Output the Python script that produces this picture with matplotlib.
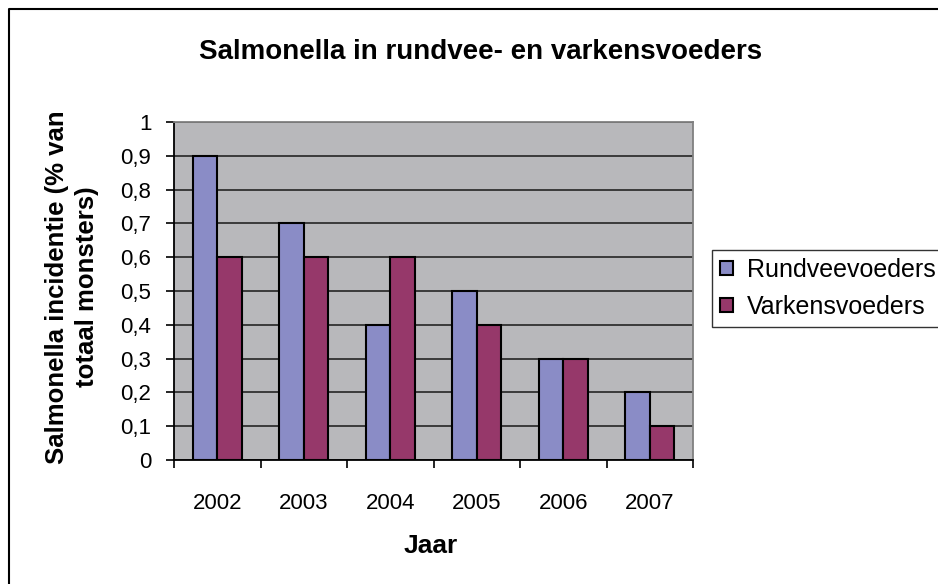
import matplotlib
matplotlib.use('Agg')
import matplotlib.pyplot as plt
import numpy as np
from matplotlib.lines import Line2D

plt.rcParams['font.family'] = ['Liberation Sans', 'DejaVu Sans']

years = ['2002', '2003', '2004', '2005', '2006', '2007']
rundvee = [0.9, 0.7, 0.4, 0.5, 0.3, 0.2]
varkens = [0.6, 0.6, 0.6, 0.4, 0.3, 0.1]
yticks = [0, 0.1, 0.2, 0.3, 0.4, 0.5, 0.6, 0.7, 0.8, 0.9, 1]
ylabels = ['0', '0,1', '0,2', '0,3', '0,4', '0,5', '0,6', '0,7', '0,8', '0,9', '1']

W, H = 938, 584
fig = plt.figure(figsize=(W / 100, H / 100), dpi=100)
ax = fig.add_axes([174 / W, 1 - 460 / H, (693 - 174) / W, (460 - 122) / H])
ax.set_facecolor('#b8b8bb')

x = np.arange(len(years)) + 0.5
w = 1 / 3.5
ax.bar(x - w / 2, rundvee, w, color='#8a8cc6', edgecolor='black',
       linewidth=1.5, label='Rundveevoeders', zorder=3)
ax.bar(x + w / 2, varkens, w, color='#96386a', edgecolor='black',
       linewidth=1.5, label='Varkensvoeders', zorder=3)

ax.set_xlim(0, len(years))
ax.set_ylim(0, 1)
ax.set_yticks(yticks)
ax.set_yticklabels(ylabels, fontsize=16)
ax.set_xticks(np.arange(len(years) + 1))
ax.set_xticklabels([])
ax.set_xticks(x, minor=True)
ax.set_xticklabels(years, minor=True, fontsize=16)
ax.tick_params(axis='x', which='minor', length=0, pad=24)
ax.tick_params(axis='x', which='major', length=5.8, width=1.2, direction='out')
ax.tick_params(axis='y', length=5.8, width=1.2, direction='out', pad=10.5)
ax.yaxis.grid(True, color='#303030', linewidth=1.3, zorder=1)
ax.set_axisbelow(True)
for s in ['top', 'right']:
    ax.spines[s].set_color('#808080')
    ax.spines[s].set_linewidth(1.3)
ax.spines['left'].set_linewidth(1.3)
ax.spines['bottom'].set_linewidth(1.3)

fig.text(481 / W, 1 - 52 / H, 'Salmonella in rundvee- en varkensvoeders',
         fontsize=20, fontweight='bold', ha='center', va='center')
fig.text(431 / W, 1 - 546 / H, 'Jaar', fontsize=19, fontweight='bold',
         ha='center', va='center')
fig.text(72 / W, 1 - 287 / H, 'Salmonella incidentie (% van\ntotaal monsters)',
         fontsize=18.5, fontweight='bold', rotation=90, ha='center',
         va='center', multialignment='center', linespacing=1.3)

leg = fig.legend(loc='upper left', bbox_to_anchor=(712 / W, 1 - 250 / H),
                 fontsize=18, frameon=True, fancybox=False, edgecolor='black',
                 handlelength=0.52, handleheight=0.52, handletextpad=0.56,
                 borderpad=0.32, labelspacing=0.52, borderaxespad=0)
leg.get_frame().set_linewidth(1.0)

# chart area border (only top and left visible)
fig.lines.append(Line2D([9 / W, 9 / W, 1], [0, 1 - 9 / H, 1 - 9 / H],
                        transform=fig.transFigure, color='black', linewidth=1.5))

fig.savefig('out.png', dpi=100)
